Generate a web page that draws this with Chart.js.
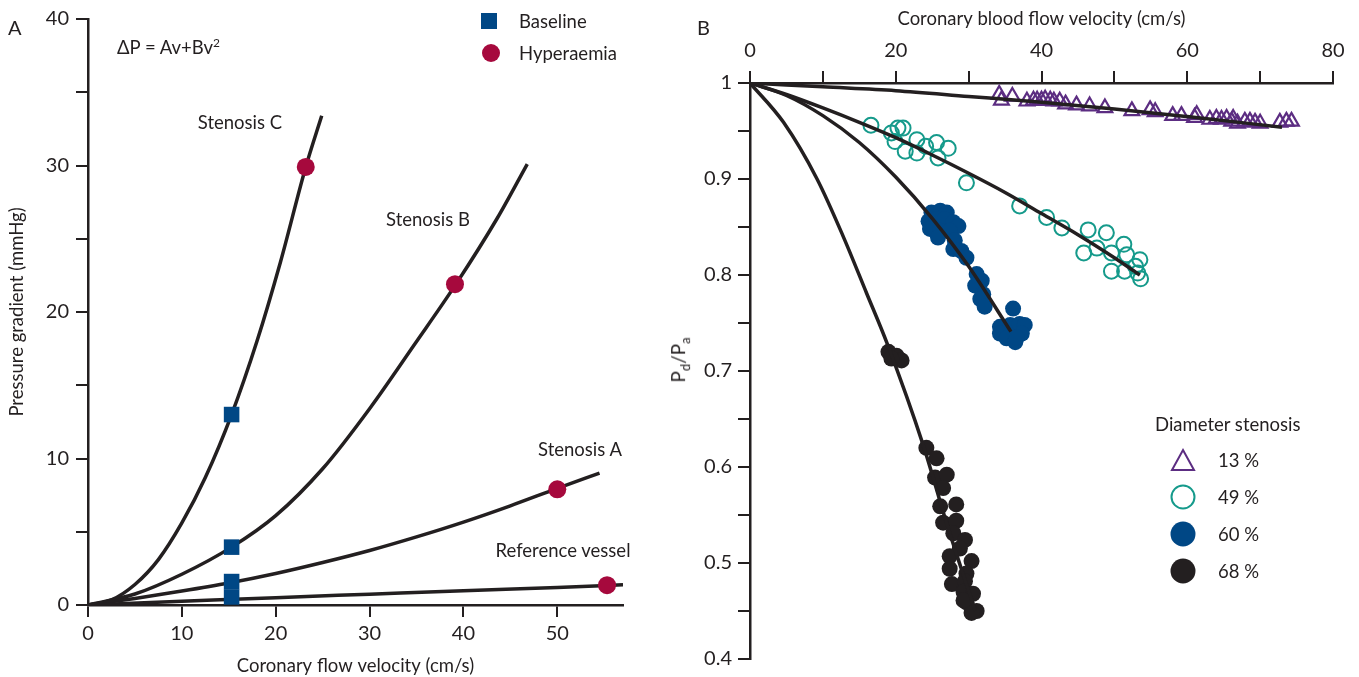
<!DOCTYPE html>
<html>
<head>
<meta charset="utf-8">
<script src="https://cdn.jsdelivr.net/npm/chart.js@4.4.1/dist/chart.umd.min.js"></script>
<style>
  body { margin: 0; background: #fff; font-family: Lato, sans-serif; color: #231f20; }
  #page { position: relative; width: 1359px; height: 677px; overflow: hidden; }
  canvas { position: absolute; top: 0; }
  .lbl { position: absolute; font-size: 18.5px; white-space: nowrap; line-height: 1; }
  .mid { transform: translate(-50%, -50%); }
  .leg { position: absolute; display: flex; align-items: center; font-size: 18.5px; }
  .leg svg { margin-right: 14px; }
</style>
</head>
<body>
<div id="page">
  <canvas id="chartA" width="680" height="677" style="left:0"></canvas>
  <canvas id="chartB" width="679" height="677" style="left:680px"></canvas>

  <div class="lbl" style="left:8px;top:17px;font-size:20px">A</div>
  <div class="lbl" style="left:117px;top:37px">ΔP = Av+Bv<sup style="font-size:12px">2</sup></div>
  <div class="lbl mid" style="left:240px;top:122px">Stenosis C</div>
  <div class="lbl mid" style="left:428px;top:219px">Stenosis B</div>
  <div class="lbl mid" style="left:580px;top:449px">Stenosis A</div>
  <div class="lbl mid" style="left:563px;top:550px">Reference vessel</div>

  <div class="lbl" style="left:697px;top:17px;font-size:20px">B</div>
  <div class="lbl" style="left:680px;top:360px;font-size:19px;transform:translate(-50%,-50%) rotate(-90deg)">P<sub style="font-size:13px">d</sub>/P<sub style="font-size:13px">a</sub></div>
  <div class="lbl" style="left:1155px;top:415px">Diameter stenosis</div>
  <div id="legendA"></div>
  <div id="legendB"></div>
</div>

<script>
// ---- Panel A: pressure gradient vs coronary flow velocity ----
const baselineV = [15.3, 15.3, 15.3, 15.3];
const baselineP = [13.0, 3.95, 1.6, 0.55];
const hyperV = [23.2, 39.1, 50.0, 55.3];
const hyperP = [29.9, 21.9, 7.9, 1.35];

const refVesselV = [0, 10, 20, 30, 40, 50, 57];
const refVesselP = [0, 0.25, 0.5, 0.74, 0.98, 1.2, 1.38];
const stenAV = [0, 5, 10, 15, 20, 25, 30, 35, 40, 45, 50, 54.5];
const stenAP = [0, 0.45, 0.95, 1.5, 2.15, 2.9, 3.72, 4.65, 5.66, 6.77, 7.96, 9.0];
const stenBV = [0, 5, 10, 15.3, 20, 25, 30, 34.8, 39.2, 43.6, 46.8];
const stenBP = [0, 0.75, 2.1, 3.95, 6.1, 9.3, 13.4, 17.8, 21.9, 26.4, 30.1];
const stenCV = [0, 2.5, 5, 7.5, 10, 12.5, 15.3, 18, 20.5, 23.2, 24.9];
const stenCP = [0, 0.35, 1.4, 3.1, 5.6, 8.7, 13.0, 18.0, 23.4, 29.9, 33.4];

// ---- Panel B: Pd/Pa vs coronary blood flow velocity ----
const fit13V = [0, 10, 20, 30, 40, 50, 60, 73];
const fit13R = [1, 0.996, 0.992, 0.986, 0.980, 0.973, 0.965, 0.954];
const fit49V = [0, 5, 10, 15, 20, 25, 30, 35, 40, 45, 50, 53.5];
const fit49R = [1, 0.988, 0.974, 0.959, 0.943, 0.925, 0.906, 0.886, 0.864, 0.842, 0.818, 0.800];
const fit60V = [0, 5, 10, 15, 20, 25, 30, 35.8];
const fit60R = [1, 0.987, 0.966, 0.938, 0.902, 0.859, 0.809, 0.741];
const fit68V = [0, 4.6, 9.2, 12.8, 16.0, 18.8, 23.8, 27.0, 30.9];
const fit68R = [1, 0.959, 0.900, 0.840, 0.781, 0.729, 0.622, 0.541, 0.450];

const tri13V = [34.2, 34.5, 36.0, 38.0, 38.9, 39.4, 40.0, 40.5, 41.2, 41.7, 42.5, 43.3, 44.8, 46.6, 48.7, 52.4, 54.9, 55.6, 58.0, 59.2, 61.0, 61.3, 63.1, 64.0, 64.7, 65.4, 66.1, 66.3, 66.9, 67.9, 68.6, 69.3, 70.0, 72.7, 73.6, 74.3];
const tri13R = [0.988, 0.982, 0.986, 0.981, 0.982, 0.982, 0.982, 0.983, 0.982, 0.981, 0.981, 0.978, 0.977, 0.976, 0.974, 0.971, 0.972, 0.970, 0.966, 0.966, 0.964, 0.967, 0.962, 0.963, 0.962, 0.963, 0.960, 0.963, 0.958, 0.960, 0.960, 0.959, 0.958, 0.959, 0.960, 0.960];
const circ49V = [16.6, 19.4, 20.3, 21.0, 19.9, 22.9, 21.3, 22.9, 24.1, 25.6, 27.2, 25.8, 29.7, 37.0, 40.7, 42.8, 46.4, 48.9, 45.8, 47.6, 49.6, 51.3, 51.7, 53.5, 49.6, 51.4, 53.2, 53.6, 52.9];
const circ49R = [0.956, 0.948, 0.953, 0.953, 0.939, 0.941, 0.929, 0.927, 0.934, 0.938, 0.932, 0.922, 0.896, 0.872, 0.860, 0.849, 0.847, 0.844, 0.823, 0.828, 0.823, 0.832, 0.821, 0.816, 0.804, 0.804, 0.802, 0.796, 0.809];
const dot60V = [24.9, 26.1, 27.0, 24.5, 25.6, 26.7, 27.9, 28.6, 24.7, 26.1, 27.4, 25.8, 28.1, 27.9, 29.0, 29.7, 31.1, 31.8, 30.9, 32.0, 31.6, 32.2, 36.1, 34.3, 35.7, 37.0, 37.7, 34.3, 35.2, 36.4, 37.3, 36.6];
const dot60R = [0.865, 0.867, 0.865, 0.856, 0.858, 0.858, 0.855, 0.851, 0.848, 0.846, 0.846, 0.839, 0.836, 0.827, 0.825, 0.818, 0.801, 0.794, 0.789, 0.780, 0.775, 0.767, 0.765, 0.746, 0.748, 0.749, 0.748, 0.739, 0.734, 0.730, 0.739, 0.735];
const dot68V = [19.0, 20.1, 20.8, 19.4, 24.2, 25.6, 25.4, 27.0, 26.5, 26.1, 28.3, 26.5, 28.3, 27.9, 29.5, 28.8, 27.4, 30.4, 27.4, 29.7, 27.7, 29.5, 29.3, 30.6, 29.7, 31.1, 30.4, 29.3];
const dot68R = [0.720, 0.716, 0.711, 0.713, 0.620, 0.609, 0.589, 0.592, 0.578, 0.559, 0.561, 0.542, 0.544, 0.531, 0.524, 0.515, 0.507, 0.502, 0.494, 0.489, 0.478, 0.481, 0.470, 0.468, 0.459, 0.450, 0.448, 0.461];

const INK = "#231f20";
const NAVY = "#004785";
const CRIMSON = "#a6093d";
const TEAL = "#159a8b";
const PURPLE = "#5c2d82";
const TICK_FONT = { family: "Lato", size: 20 };
const TITLE_FONT = { family: "Lato", size: 18.5 };

const pts = (xs, ys) => xs.map((x, i) => ({ x: x, y: ys[i] }));

function curve(xs, ys) {
  return {
    data: pts(xs, ys),
    showLine: true,
    pointRadius: 0,
    borderColor: INK,
    borderWidth: 3.5,
    cubicInterpolationMode: "monotone",
    fill: false
  };
}

function axis(opts) {
  return Object.assign({
    type: "linear",
    grid: { display: true, drawOnChartArea: false, drawTicks: true, tickLength: 12, color: INK, lineWidth: 2 },
    border: { display: true, color: INK, width: 2.5 }
  }, opts);
}

const baseOptions = {
  responsive: false,
  animation: false,
  plugins: { legend: { display: false }, tooltip: { enabled: false } }
};

// Panel A
new Chart(document.getElementById("chartA"), {
  type: "scatter",
  data: {
    datasets: [
      { data: pts(baselineV, baselineP), pointStyle: "rect", pointRadius: 11, backgroundColor: NAVY, borderWidth: 0 },
      { data: pts(hyperV, hyperP), pointStyle: "circle", pointRadius: 9, backgroundColor: CRIMSON, borderWidth: 0 },
      curve(refVesselV, refVesselP),
      curve(stenAV, stenAP),
      curve(stenBV, stenBP),
      curve(stenCV, stenCP)
    ]
  },
  options: Object.assign({}, baseOptions, {
    layout: { padding: { left: 0, right: 57, top: 10, bottom: 0 } },
    scales: {
      x: axis({
        min: 0, max: 57,
        ticks: { color: INK, font: TICK_FONT, stepSize: 10, includeBounds: false, padding: 5, maxRotation: 0 },
        title: { display: true, text: "Coronary flow velocity (cm/s)", color: INK, font: TITLE_FONT, padding: { top: 2, bottom: 0 } },
        afterFit: s => { s.height = 72; }
      }),
      y: axis({
        min: 0, max: 40,
        ticks: { color: INK, font: TICK_FONT, stepSize: 5, includeBounds: false, padding: 7,
          callback: v => (v % 10 === 0 ? v : "") },
        title: { display: true, text: "Pressure gradient (mmHg)", color: INK, font: TITLE_FONT, padding: { top: 6, bottom: 0 } },
        afterFit: s => { s.width = 88; }
      })
    }
  })
});

// Panel B
const isTenth = v => Math.abs(Math.round(v * 10) - v * 10) < 1e-6;

new Chart(document.getElementById("chartB"), {
  type: "scatter",
  data: {
    datasets: [
      curve(fit13V, fit13R),
      curve(fit49V, fit49R),
      curve(fit60V, fit60R),
      curve(fit68V, fit68R),
      { data: pts(tri13V, tri13R), pointStyle: "triangle", pointRadius: 8.5, backgroundColor: "rgba(0,0,0,0)", borderColor: PURPLE, borderWidth: 2.2 },
      { data: pts(circ49V, circ49R), pointStyle: "circle", pointRadius: 7.5, backgroundColor: "rgba(0,0,0,0)", borderColor: TEAL, borderWidth: 2 },
      { data: pts(dot60V, dot60R), pointStyle: "circle", pointRadius: 8, backgroundColor: NAVY, borderWidth: 0 },
      { data: pts(dot68V, dot68R), pointStyle: "circle", pointRadius: 8, backgroundColor: INK, borderWidth: 0 }
    ]
  },
  options: Object.assign({}, baseOptions, {
    layout: { padding: { left: 0, right: 26, top: 0, bottom: 15 } },
    scales: {
      x: axis({
        position: "top",
        min: 0, max: 80,
        ticks: { color: INK, font: TICK_FONT, stepSize: 10, includeBounds: false, padding: 8, maxRotation: 0,
          callback: v => (v % 20 === 0 ? v : "") },
        title: { display: true, text: "Coronary blood flow velocity (cm/s)", color: INK, font: TITLE_FONT, padding: { top: 8, bottom: 0 } },
        afterFit: s => { s.height = 83; }
      }),
      y: axis({
        min: 0.4, max: 1,
        ticks: { color: INK, font: TICK_FONT, stepSize: 0.05, includeBounds: false, padding: 6,
          callback: v => (isTenth(v) ? String(+v.toFixed(1)) : "") },
        afterFit: s => { s.width = 70; }
      })
    }
  })
});

// Legends (HTML, markers as small SVGs)
function legendRow(left, top, svg, text) {
  const row = document.createElement("div");
  row.className = "leg";
  row.style.left = left + "px";
  row.style.top = top + "px";
  row.innerHTML = svg + "<span>" + text + "</span>";
  return row;
}

const legA = document.getElementById("legendA");
legA.appendChild(legendRow(481, 10,
  '<svg width="24" height="20"><rect x="0" y="2" width="16" height="16" fill="' + NAVY + '"/></svg>', "Baseline"));
legA.appendChild(legendRow(481, 42,
  '<svg width="24" height="20"><circle cx="10" cy="10" r="9" fill="' + CRIMSON + '"/></svg>', "Hyperaemia"));

const legB = document.getElementById("legendB");
const legItems = [
  ['<polygon points="13,3 24,23 2,23" fill="none" stroke="' + PURPLE + '" stroke-width="2"/>', "13 %"],
  ['<circle cx="13" cy="13" r="11.5" fill="none" stroke="' + TEAL + '" stroke-width="2"/>', "49 %"],
  ['<circle cx="13" cy="13" r="12.5" fill="' + NAVY + '"/>', "60 %"],
  ['<circle cx="13" cy="13" r="12.5" fill="' + INK + '"/>', "68 %"]
];
legItems.forEach((it, i) => {
  legB.appendChild(legendRow(1170, 447 + i * 37,
    '<svg width="26" height="26" style="margin-right:22px">' + it[0] + '</svg>', it[1]));
});
</script>
</body>
</html>
